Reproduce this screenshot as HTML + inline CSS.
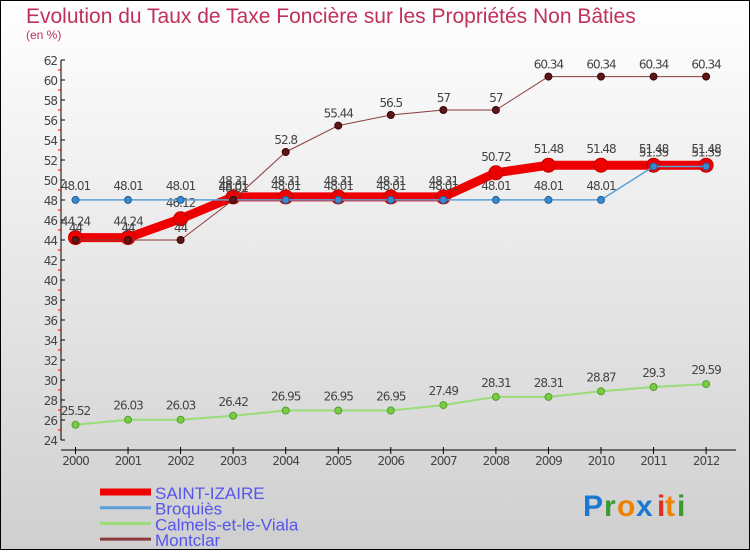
<!DOCTYPE html>
<html><head><meta charset="utf-8"><style>
body{margin:0}
#c{width:750px;height:550px;position:relative;font-family:"DejaVu Sans","Liberation Sans",sans-serif}
</style></head><body>
<div id="c">
<svg id="s" width="750" height="550" xmlns="http://www.w3.org/2000/svg">
<defs><linearGradient id="bg" x1="0" y1="0" x2="0" y2="1"><stop offset="0" stop-color="#ffffff"/><stop offset="1" stop-color="#cfcfcf"/></linearGradient></defs>
<rect x="0.5" y="0.5" width="749" height="549" fill="url(#bg)" stroke="#000"/>
<text x="26" y="23" font-size="21" fill="#c0305a" font-family="Liberation Sans, sans-serif">Evolution du Taux de Taxe Foncière sur les Propriétés Non Bâties</text>
<text x="26" y="39" font-size="12" fill="#c0305a" font-family="Liberation Sans, sans-serif">(en %)</text>
<g id="axes"></g><g id="series"></g><g id="legend"></g>
<g font-family="Liberation Sans, sans-serif" font-size="30" font-weight="bold">
<text x="583" y="516" fill="#1a7ad0">P</text><text x="604" y="516" fill="#3a9a30">r</text><text x="617" y="516" fill="#f08000">o</text><text x="636" y="516" fill="#1a7ad0">x</text><text x="657" y="516" fill="#e03020">i</text><text x="665" y="516" fill="#f08000">t</text><text x="677" y="516" fill="#3a9a30">i</text>
</g>
</svg></div>
<script>
const years=[2000,2001,2002,2003,2004,2005,2006,2007,2008,2009,2010,2011,2012];
const yTicks=[24,26,28,30,32,34,36,38,40,42,44,46,48,50,52,54,56,58,60,62];
const saintIzaire=[44.24,44.24,46.12,48.31,48.31,48.31,48.31,48.31,50.72,51.48,51.48,51.48,51.48];
const broquies=[48.01,48.01,48.01,48.01,48.01,48.01,48.01,48.01,48.01,48.01,48.01,51.35,51.35];
const calmels=[25.52,26.03,26.03,26.42,26.95,26.95,26.95,27.49,28.31,28.31,28.87,29.3,29.59];
const montclar=[44,44,44,48.01,52.8,55.44,56.5,57,57,60.34,60.34,60.34,60.34];
const NS='http://www.w3.org/2000/svg';
const X=i=>75.5+i*52.55, Y=v=>440-(v-24)*10;
function mk(t,a,p){const e=document.createElementNS(NS,t);for(const k in a)e.setAttribute(k,a[k]);p.appendChild(e);return e;}
const ax=document.getElementById('axes');
let l=mk('line',{x1:61,y1:60,x2:61,y2:440,stroke:'#000'},ax);


l=mk('line',{x1:61,y1:450,x2:736,y2:450,stroke:'#000'},ax);


yTicks.forEach(v=>{mk('line',{x1:61,y1:Y(v),x2:65,y2:Y(v),stroke:'#000'},ax);
 if(v<62)mk('line',{x1:58,y1:Y(v+1),x2:61,y2:Y(v+1),stroke:'#e00'},ax);
 const t=mk('text',{x:57,y:Y(v)+5,'font-size':12,fill:'#444','text-anchor':'end','letter-spacing':'-1'},ax);t.textContent=v;
 
 });
years.forEach((y,i)=>{mk('line',{x1:X(i),y1:447,x2:X(i),y2:454,stroke:'#000'},ax);
 const t=mk('text',{x:X(i),y:465,'font-size':12,fill:'#444','text-anchor':'middle','letter-spacing':'-1'},ax);t.textContent=y;
 
 });
const sg=document.getElementById('series');
const defs=[
 {d:saintIzaire,name:'saint-izaire',c:'#ee0000',w:9,r:7,pc:'#ee0000',ps:'#c00000',off:12},
 {d:broquies,name:'broquies',c:'#5aa0d8',w:1.5,r:3.5,pc:'#3a8acc',ps:'#2060a0',off:10},
 {d:calmels,name:'calmels-et-le-viala',c:'#99dd77',w:2,r:3.5,pc:'#77cc44',ps:'#55a030',off:10},
 {d:montclar,name:'montclar',c:'#8a3a3a',w:1,r:3.5,pc:'#5a1818',ps:'#400000',off:8}];
defs.forEach(s=>{const g=mk('g',{},sg);
 
 
 const p=mk('polyline',{points:s.d.map((v,i)=>X(i)+','+Y(v)).join(' '),fill:'none',stroke:s.c,'stroke-width':s.w,'stroke-linejoin':'round'},g);
 
 
 s.d.forEach((v,i)=>{const c=mk('circle',{cx:X(i),cy:Y(v),r:s.r,fill:s.pc,stroke:s.ps,'stroke-width':1},g);
  
  
  const t=mk('text',{x:X(i),y:Y(v)-s.off,'font-size':12,fill:'#444','text-anchor':'middle','letter-spacing':'-1'},g);t.textContent=v;
  
  });});
const lg=document.getElementById('legend');
const lnames=['SAINT-IZAIRE','Broquiès','Calmels-et-le-Viala','Montclar'];
defs.forEach((s,i)=>{const y=492+i*15.7;
 const g=mk('g',{},lg);
 
 
 mk('line',{x1:100,y1:y,x2:151,y2:y,stroke:s.c,'stroke-width':i==0?7:3},g);
 const t=mk('text',{x:155,y:y+7,'font-size':17,fill:'#5555ee','font-family':'Liberation Sans, sans-serif'},g);t.textContent=lnames[i];
 
 });
</script>
</body></html>
